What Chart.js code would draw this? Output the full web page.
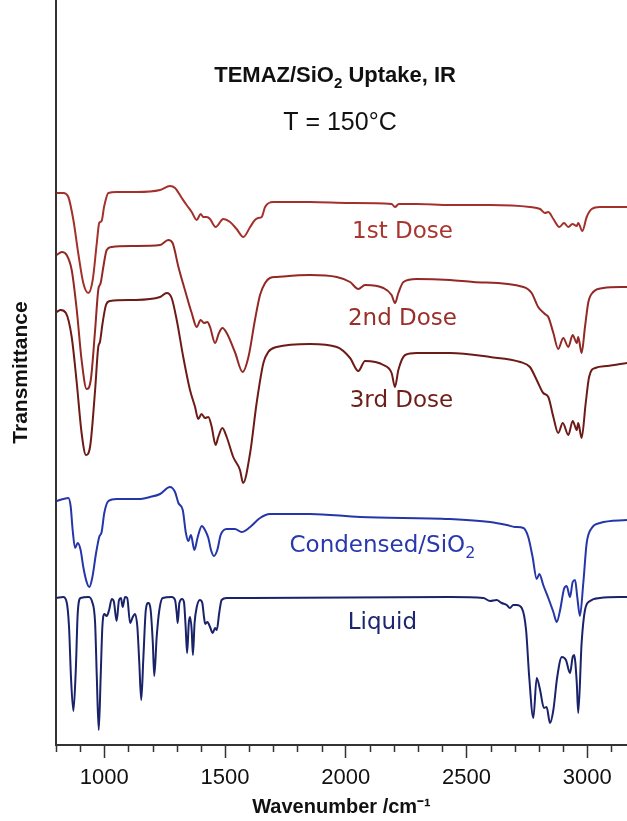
<!DOCTYPE html>
<html>
<head>
<meta charset="utf-8">
<script src="https://cdn.jsdelivr.net/npm/chart.js@4.4.1/dist/chart.umd.min.js"></script>
<style>
  html, body { margin: 0; padding: 0; background: #fff; }
  #wrap { width: 627px; height: 821px; }
</style>
</head>
<body>
<div id="wrap"><canvas id="irChart" width="627" height="821"></canvas></div>
<script>
// wavenumber (cm-1) and offset transmittance (arbitrary units)
const dose1Wn = [803, 830, 851, 872, 892, 913, 934, 952, 969, 979, 989, 999, 1017, 1051, 1134, 1231, 1272, 1293, 1321, 1341, 1362, 1383, 1399, 1410, 1424, 1438, 1461, 1493, 1521, 1548, 1576, 1604, 1624, 1638, 1652, 1666, 1700, 1769, 1852, 2018, 2190, 2204, 2220, 2294, 2432, 2598, 2763, 2805, 2825, 2839, 2860, 2885, 2904, 2922, 2939, 2957, 2963, 2980, 2998, 3019, 3053, 3165];
const dose1T = [552, 552, 548, 525, 492, 462, 452, 465, 502, 522, 524, 538, 552, 553, 553, 555, 559, 557, 547, 540, 533, 525, 531, 528, 528, 526, 518, 526, 523, 516, 508, 518, 525, 527, 528, 538, 543, 543, 543, 542, 541, 538, 541, 541, 540, 540, 538, 536, 532, 533, 526, 518, 522, 518, 521, 519, 522, 514, 528, 536, 538, 538];

const dose2Wn = [803, 824, 844, 865, 886, 906, 927, 944, 962, 975, 985, 996, 1010, 1031, 1120, 1231, 1265, 1283, 1307, 1334, 1362, 1383, 1399, 1413, 1427, 1438, 1459, 1475, 1489, 1507, 1541, 1573, 1597, 1624, 1645, 1666, 1686, 1714, 1852, 1963, 2018, 2052, 2080, 2156, 2190, 2204, 2218, 2239, 2294, 2432, 2528, 2736, 2770, 2797, 2825, 2839, 2860, 2880, 2901, 2922, 2940, 2957, 2963, 2977, 2991, 3005, 3025, 3067, 3165];
const dose2T = [490, 493, 490, 475, 435, 385, 356, 365, 415, 455, 462, 478, 495, 498, 499, 500, 505, 502, 478, 455, 432, 418, 425, 422, 423, 418, 402, 412, 417, 412, 393, 373, 388, 425, 450, 462, 467, 468, 470, 468, 463, 456, 460, 457, 450, 442, 452, 463, 466, 465, 463, 458, 452, 438, 431, 428, 412, 396, 407, 398, 410, 402, 408, 392, 418, 443, 453, 457, 458];

const dose3Wn = [803, 819, 841, 865, 886, 906, 924, 941, 962, 975, 982, 993, 1007, 1024, 1120, 1231, 1259, 1279, 1300, 1327, 1355, 1376, 1389, 1403, 1417, 1431, 1445, 1461, 1472, 1489, 1507, 1534, 1562, 1575, 1604, 1631, 1659, 1679, 1714, 1852, 1963, 2018, 2052, 2080, 2156, 2190, 2204, 2218, 2246, 2294, 2432, 2598, 2723, 2763, 2791, 2818, 2839, 2860, 2880, 2899, 2922, 2940, 2957, 2963, 2977, 2994, 3008, 3033, 3081, 3165];
const dose3T = [433, 435, 432, 408, 362, 312, 290, 298, 355, 398, 403, 422, 440, 444, 445, 448, 452, 447, 425, 388, 355, 338, 326, 331, 327, 328, 318, 300, 308, 317, 308, 288, 275, 262, 292, 342, 382, 393, 398, 401, 398, 387, 374, 384, 380, 372, 358, 375, 390, 392, 392, 388, 383, 378, 365, 352, 348, 328, 312, 322, 310, 324, 315, 322, 307, 342, 368, 377, 379, 382];

const condWn = [803, 830, 851, 861, 869, 879, 890, 902, 913, 927, 938, 950, 966, 979, 989, 1000, 1017, 1051, 1141, 1189, 1231, 1272, 1293, 1307, 1325, 1338, 1348, 1359, 1373, 1387, 1404, 1417, 1431, 1442, 1454, 1468, 1482, 1507, 1541, 1569, 1604, 1645, 1686, 1852, 2059, 2432, 2598, 2667, 2701, 2736, 2756, 2774, 2791, 2802, 2818, 2839, 2860, 2874, 2888, 2904, 2915, 2929, 2940, 2950, 2959, 2970, 2984, 2998, 3019, 3053, 3165];
const condT = [244, 246, 247, 238, 215, 197, 202, 195, 178, 163, 158, 167, 192, 208, 213, 232, 244, 246, 246, 248, 251, 258, 253, 242, 235, 212, 204, 210, 195, 208, 219, 215, 207, 195, 189, 195, 210, 216, 216, 213, 218, 227, 231, 231, 228, 226, 223, 220, 218, 217, 208, 188, 166, 171, 160, 147, 133, 123, 135, 156, 159, 148, 163, 165, 148, 129, 162, 202, 217, 222, 225];

const liqWn = [803, 830, 844, 854, 862, 872, 882, 890, 902, 934, 950, 962, 969, 977, 985, 992, 1000, 1010, 1020, 1031, 1040, 1051, 1061, 1069, 1076, 1086, 1095, 1107, 1118, 1127, 1137, 1145, 1153, 1162, 1172, 1182, 1192, 1201, 1207, 1217, 1228, 1242, 1279, 1293, 1300, 1304, 1311, 1322, 1330, 1337, 1343, 1350, 1355, 1362, 1367, 1374, 1383, 1396, 1406, 1413, 1418, 1427, 1438, 1449, 1459, 1466, 1476, 1486, 1507, 1604, 2432, 2570, 2598, 2625, 2646, 2667, 2680, 2694, 2708, 2729, 2747, 2760, 2777, 2791, 2805, 2821, 2832, 2846, 2860, 2876, 2895, 2912, 2929, 2940, 2946, 2957, 2963, 2977, 2991, 3012, 3053, 3165];
const liqT = [147, 148, 143, 118, 68, 34, 75, 132, 147, 148, 143, 122, 68, 15, 68, 118, 131, 129, 135, 146, 143, 124, 145, 147, 138, 148, 147, 122, 128, 131, 118, 82, 45, 88, 135, 142, 135, 102, 69, 108, 135, 147, 148, 145, 132, 122, 142, 146, 143, 118, 92, 122, 128, 115, 90, 122, 138, 145, 142, 128, 121, 123, 118, 112, 117, 115, 132, 145, 147, 147, 148, 147, 144, 145, 142, 140, 137, 140, 140, 137, 115, 68, 27, 67, 55, 37, 38, 22, 35, 68, 88, 85, 72, 88, 90, 62, 32, 102, 135, 144, 147, 148];

const seriesNames = ['1st Dose', '2nd Dose', '3rd Dose', 'Condensed/SiO2', 'Liquid'];
const xTickLabels = [1000, 1500, 2000, 2500, 3000];

const lineColors = ['#a3302b', '#922924', '#6c1b17', '#2536a8', '#1a2269'];
const labelColors = ['#a8362f', '#9a2f29', '#6e1e19', '#2838ad', '#1d2670'];

const toPoints = (wn, t) => wn.map((x, i) => ({ x, y: t[i] }));
const seriesData = [
  toPoints(dose1Wn, dose1T),
  toPoints(dose2Wn, dose2T),
  toPoints(dose3Wn, dose3T),
  toPoints(condWn, condT),
  toPoints(liqWn, liqT)
];

const datasets = seriesNames.map((name, i) => ({
  label: name,
  data: seriesData[i],
  borderColor: lineColors[i],
  borderWidth: 2,
  pointRadius: 0,
  cubicInterpolationMode: 'monotone'
}));

// text placed inside the plot, anchored in data coordinates (centre x, baseline y)
const notes = [
  { parts: [{ t: 'TEMAZ/SiO' }, { t: '2', sub: true }, { t: ' Uptake, IR' }], wn: 1956, y: 663, size: 22, weight: 'bold', family: '"Liberation Sans", Arial, sans-serif', color: '#111' },
  { parts: [{ t: 'T = 150°C' }], wn: 1976, y: 615, size: 25, weight: 'normal', family: '"Liberation Sans", Arial, sans-serif', color: '#111' },
  { parts: [{ t: '1st Dose' }], wn: 2235, y: 507, size: 23, weight: 'normal', family: '"DejaVu Sans", sans-serif', color: labelColors[0] },
  { parts: [{ t: '2nd Dose' }], wn: 2235, y: 420, size: 23, weight: 'normal', family: '"DejaVu Sans", sans-serif', color: labelColors[1] },
  { parts: [{ t: '3rd Dose' }], wn: 2231, y: 338, size: 23, weight: 'normal', family: '"DejaVu Sans", sans-serif', color: labelColors[2] },
  { parts: [{ t: 'Condensed/SiO' }, { t: '2', sub: true }], wn: 2152, y: 193, size: 23, weight: 'normal', family: '"DejaVu Sans", sans-serif', color: labelColors[3] },
  { parts: [{ t: 'Liquid' }], wn: 2152, y: 116, size: 23, weight: 'normal', family: '"DejaVu Sans", sans-serif', color: labelColors[4] }
];

function drawRich(ctx, note, cx, baseline) {
  const fontFor = p => `${note.weight} ${p.sub ? Math.round(note.size * 0.68) : note.size}px ${note.family}`;
  let total = 0;
  note.parts.forEach(p => {
    ctx.font = fontFor(p);
    p.w = ctx.measureText(p.t).width;
    total += p.w;
  });
  let x = cx - total / 2;
  ctx.fillStyle = note.color;
  ctx.textAlign = 'left';
  ctx.textBaseline = 'alphabetic';
  note.parts.forEach(p => {
    ctx.font = fontFor(p);
    ctx.fillText(p.t, x, baseline + (p.sub ? note.size * 0.26 : 0));
    x += p.w;
  });
}

const notesPlugin = {
  id: 'notes',
  afterDraw(chart) {
    const { ctx, scales } = chart;
    ctx.save();
    notes.forEach(n => drawRich(ctx, n, scales.x.getPixelForValue(n.wn), scales.y.getPixelForValue(n.y)));
    ctx.restore();
  }
};

// short minor ticks every 100 cm-1
const minorTicks = {
  id: 'minorTicks',
  afterDraw(chart) {
    const x = chart.scales.x;
    const ctx = chart.ctx;
    ctx.save();
    ctx.strokeStyle = '#333';
    ctx.lineWidth = 1.5;
    x.ticks.forEach(t => {
      if (xTickLabels.includes(t.value)) return;
      const px = Math.round(x.getPixelForValue(t.value)) + 0.5;
      ctx.beginPath();
      ctx.moveTo(px, x.top);
      ctx.lineTo(px, x.top + 7);
      ctx.stroke();
    });
    ctx.restore();
  }
};

new Chart(document.getElementById('irChart'), {
  type: 'line',
  data: { datasets },
  plugins: [notesPlugin, minorTicks],
  options: {
    responsive: false,
    devicePixelRatio: 1,
    animation: false,
    layout: { padding: 0 },
    plugins: {
      legend: { display: false },
      tooltip: { enabled: false }
    },
    scales: {
      x: {
        type: 'linear',
        min: 800,
        max: 3165,
        afterFit(scale) { scale.height = 76; },
        border: { display: true, color: '#333', width: 2 },
        grid: {
          drawOnChartArea: false,
          drawTicks: true,
          tickLength: 13,
          tickWidth: 1.5,
          tickColor: c => xTickLabels.includes(c.tick && c.tick.value) ? '#333' : 'rgba(0,0,0,0)'
        },
        ticks: {
          stepSize: 100,
          includeBounds: false,
          autoSkip: false,
          maxRotation: 0,
          minRotation: 0,
          padding: 7,
          color: '#111',
          font: { family: '"Liberation Sans", Arial, sans-serif', size: 22 },
          callback: v => xTickLabels.includes(v) ? String(v) : ''
        },
        title: {
          display: true,
          text: 'Wavenumber /cm⁻¹',
          color: '#111',
          font: { family: '"Liberation Sans", Arial, sans-serif', size: 20, weight: 'bold' },
          padding: { top: 0, bottom: 2 }
        }
      },
      y: {
        type: 'linear',
        min: 0,
        max: 745,
        afterFit(scale) { scale.width = 56; },
        border: { display: true, color: '#333', width: 2 },
        grid: { drawOnChartArea: false, drawTicks: false },
        ticks: { display: false },
        title: {
          display: true,
          text: 'Transmittance',
          color: '#111',
          font: { family: '"Liberation Sans", Arial, sans-serif', size: 21, weight: 'bold' },
          padding: { top: 9, bottom: 0 }
        }
      }
    }
  }
});
</script>
</body>
</html>
